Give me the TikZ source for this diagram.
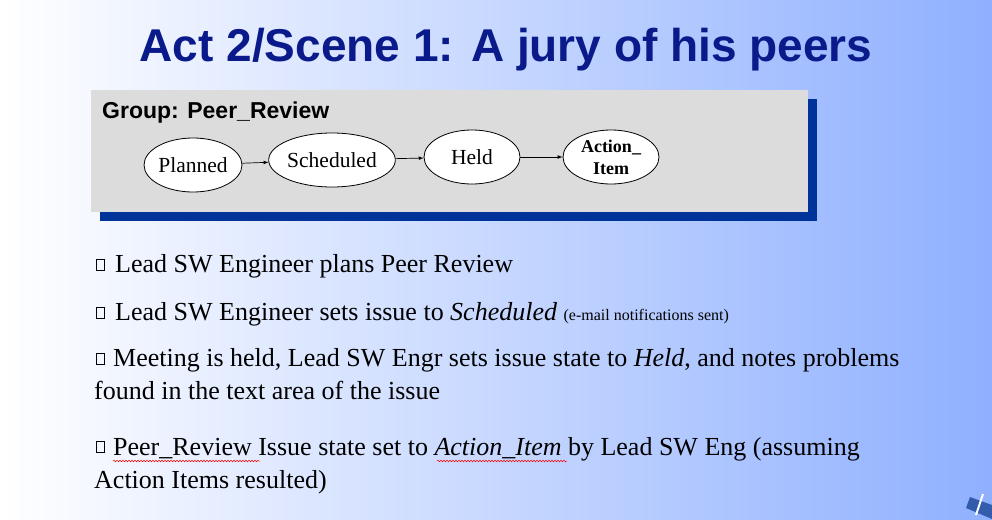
\documentclass[tikz,border=0pt]{standalone}
\usepackage{fontspec}
\setmainfont{Liberation Serif}
\newfontfamily\arial{Liberation Sans}
\usetikzlibrary{decorations.pathmorphing,shapes.geometric}
\definecolor{bgblue}{HTML}{8FB0FF}
\definecolor{titleblue}{HTML}{0A1A8A}
\definecolor{shadowblue}{HTML}{003399}
\definecolor{boxgray}{HTML}{DCDCDC}
\tikzset{
  st/.style={draw,ellipse,fill=white,line width=0.8pt,minimum width=96pt,minimum height=54pt,inner sep=0pt,font=\fontsize{21.5}{23}\selectfont},
  arr/.style={-latex,line width=0.7pt},
  bul/.style={draw,line width=0.7pt,minimum width=8pt,minimum height=11pt,inner sep=0pt},
  body/.style={anchor=base west,inner sep=0pt,font=\fontsize{26}{30}\selectfont},
  squig/.style={red,line width=0.5pt,decorate,decoration={snake,amplitude=0.8pt,segment length=3pt}}
}
\begin{document}
\begin{tikzpicture}[x=1pt,y=-1pt]
\shade[left color=white,right color=bgblue] (0,0) rectangle (992,519);
\useasboundingbox (0,0) rectangle (992,519);
% corner decoration
\begin{scope}
\clip (0,0) rectangle (992,519);
\shade[left color=white!85!bgblue,right color=bgblue!80!gray] (990,612) circle[radius=90];
\fill[shadowblue!80] (970,497) -- (992,505) -- (992,519) -- (966,508) -- cycle;
\draw[white,line width=2pt] (983,494) -- (976,515);
\end{scope}
\node[anchor=base,text=titleblue,font=\arial\bfseries\fontsize{46}{50}\selectfont] (title) at (506,62) {Act 2/Scene 1: A jury of his peers};
\fill[shadowblue] (100,99) rectangle (817,221);
\fill[boxgray] (91,90) rectangle (808,212);
\node[anchor=base west,inner sep=0pt,font=\arial\bfseries\fontsize{23}{26}\selectfont] (grp) at (102,118) {Group: Peer\_Review};
\node[st] (p) at (193,165) {Planned};
\node[st] (s) at (332,160) {Scheduled};
\node[st] (h) at (472,157) {Held};
\node[st,font=\bfseries\fontsize{18}{22}\selectfont,align=center] (a) at (611,157) {Action\_\\Item};
\draw[arr] (p) -- (s);
\draw[arr] (s) -- (h);
\draw[arr] (h) -- (a);
% bullets
\node[bul] (b1) at (100,265) {};
\node[body] (t1) at (115,272) {Lead SW Engineer plans Peer Review};
\node[bul] (b2) at (100,313) {};
\node[body] (t2) at (115,320) {Lead SW Engineer sets issue to \textit{Scheduled} {\fontsize{16}{18}\selectfont(e-mail notifications sent)}};
\node[bul] (b3) at (100,359) {};
\node[body] (t3) at (113,366) {Meeting is held, Lead SW Engr sets issue state to \textit{Held}, and notes problems};
\node[body] (t3b) at (94,399) {found in the text area of the issue};
\node[bul] (b4) at (100,447) {};
\node[body] (t4) at (113,455) {Peer\_Review Issue state set to \textit{Action\_Item} by Lead SW Eng (assuming};
\node[body] (t4b) at (94,488) {Action Items resulted)};
\coordinate (u1) at (113,461); \coordinate (u2) at (260,461);
\draw[squig] (u1) -- (u2);
\coordinate (u3) at (437,461); \coordinate (u4) at (567,461);
\draw[squig] (u3) -- (u4);
\end{tikzpicture}
\end{document}
